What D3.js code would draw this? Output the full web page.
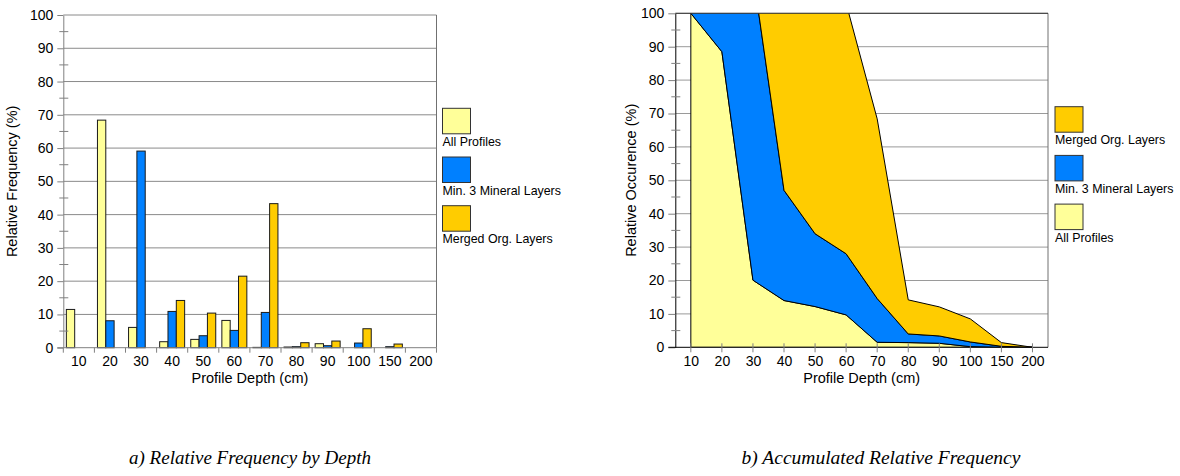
<!DOCTYPE html>
<html><head><meta charset="utf-8">
<script src="https://cdn.jsdelivr.net/npm/d3@7"></script>
<style>
body{margin:0;background:#fff}
svg{display:block}
text{font-family:"Liberation Sans",Arial,sans-serif;fill:#000}
</style>
</head><body><svg id="c" width="1180" height="476"></svg>
<script>
// ---------- data ----------
const categories = ["10","20","30","40","50","60","70","80","90","100","150","200"];
const seriesNames = ["All Profiles","Min. 3 Mineral Layers","Merged Org. Layers"];
const seriesColors = ["#FFFF99","#0080FF","#FFCC00"];
// a) relative frequency by depth (%)
const allProfiles     = [11.5,68.4,6.1,1.8,2.5,8.2,0.1,0.2,1.2,0,0,0];
const mineralLayers   = [0,8.1,59.1,10.9,3.6,5.2,10.6,0.3,0.6,1.4,0.3,0];
const mergedOrgLayers = [0,0,0,14.2,10.4,21.5,43.3,1.5,2.0,5.7,1.1,0];
// b) accumulated relative frequency (%), stacked and clipped at 100
const accAllProfiles = [100,88.5,20.1,14.0,12.2,9.7,1.5,1.4,1.2,0.2,0,0];
const accMineral     = [100,100,92,33,21.8,18.3,13.1,2.6,2.2,1.4,0.3,0];
const accOrg         = [100,100,100,99.7,85.5,75,53.8,10.2,8.7,6.9,1.1,0];
const yTicks = [0,10,20,30,40,50,60,70,80,90,100];
const yMinorTicks = [5,15,25,35,45,55,65,75,85,95];

const svg = d3.select("#c");
svg.append("rect").attr("width",1180).attr("height",476).attr("fill","#fff");

// ---------- chart a ----------
(function(){
  const L=63.3,R=436.5,T=15,B=347.7;
  const g = svg.append("g");
  const x = d3.scaleBand().domain(categories).range([L,R]);
  const x1 = d3.scaleBand().domain(seriesNames).range([0,x.bandwidth()]).paddingOuter(0.367);
  const y = d3.scaleLinear().domain([0,100]).range([B,T]);
  // grid
  g.selectAll("line.grid").data(yTicks.slice(1)).join("line")
    .attr("x1",L).attr("x2",R).attr("y1",d=>y(d)).attr("y2",d=>y(d))
    .attr("stroke","#8a8a8a").attr("stroke-width",1);
  g.append("line").attr("x1",R).attr("x2",R).attr("y1",T).attr("y2",B).attr("stroke","#707070");
  // bars
  const vals=[allProfiles,mineralLayers,mergedOrgLayers];
  const rows=[];
  categories.forEach((c,i)=>seriesNames.forEach((s,j)=>{ if(vals[j][i]>0) rows.push({c,s,j,v:vals[j][i]}); }));
  g.selectAll("rect.bar").data(rows).join("rect")
    .attr("x",d=>x(d.c)+x1(d.s)).attr("width",x1.bandwidth())
    .attr("y",d=>y(d.v)).attr("height",d=>y(0)-y(d.v))
    .attr("fill",d=>seriesColors[d.j]).attr("stroke","#1a1a1a").attr("stroke-width",1);
  // y axis
  const ya = g.append("g").attr("transform",`translate(${L},0)`)
    .call(d3.axisLeft(y).tickValues(yTicks).tickSize(6).tickSizeOuter(0).tickPadding(4));
  ya.select(".domain").attr("stroke","#808080");
  ya.selectAll(".tick line").attr("stroke","#808080");
  ya.selectAll("text").style("font-size","14px");
  g.selectAll("line.minor").data(yMinorTicks).join("line")
    .attr("x1",L-4).attr("x2",L+5).attr("y1",d=>y(d)).attr("y2",d=>y(d)).attr("stroke","#808080");
  // x axis
  const xa = g.append("g").attr("transform",`translate(0,${B})`)
    .call(d3.axisBottom(x).tickSize(0).tickSizeOuter(0).tickPadding(8.4));
  xa.select(".domain").remove();
  xa.selectAll("text").style("font-size","14px");
  g.append("line").attr("x1",L-6).attr("x2",R).attr("y1",B).attr("y2",B).attr("stroke","#808080");
  g.selectAll("line.xt").data(categories.map(c=>x(c)).concat([R])).join("line")
    .attr("x1",d=>d).attr("x2",d=>d).attr("y1",B).attr("y2",B+5).attr("stroke","#808080");
  // titles
  g.append("text").attr("transform",`translate(17,${(T+B)/2}) rotate(-90)`)
    .attr("text-anchor","middle").style("font-size","14.5px").text("Relative Frequency (%)");
  g.append("text").attr("x",(L+R)/2).attr("y",383.3).attr("text-anchor","middle")
    .style("font-size","14.5px").text("Profile Depth (cm)");
  // legend
  const lg = g.selectAll("g.leg").data(seriesNames).join("g")
    .attr("transform",(d,i)=>`translate(442.5,${108.3+i*48.7})`);
  lg.append("rect").attr("width",28).attr("height",25.5)
    .attr("fill",(d,i)=>seriesColors[i]).attr("stroke","#333");
  lg.append("text").attr("x",0).attr("y",37.5).style("font-size","12.4px").text(d=>d);
  // caption
  g.append("text").attr("x",250).attr("y",464).attr("text-anchor","middle")
    .style("font-family","'Liberation Serif','Times New Roman',serif").style("font-style","italic")
    .style("font-size","19px").text("a) Relative Frequency by Depth");
})();

// ---------- chart b ----------
(function(){
  const L=675.3,R=1048,T=13.3,B=347.3;
  const g = svg.append("g");
  const x = d3.scalePoint().domain(categories).range([L,R]).padding(0.5);
  const y = d3.scaleLinear().domain([0,100]).range([B,T]);
  g.selectAll("line.grid").data(yTicks.slice(1)).join("line")
    .attr("x1",L).attr("x2",R).attr("y1",d=>y(d)).attr("y2",d=>y(d))
    .attr("stroke","#9a9a9a").attr("stroke-width",1);
  g.append("line").attr("x1",R).attr("x2",R).attr("y1",T).attr("y2",B).attr("stroke","#707070");
  // stacked areas
  const rows = categories.map((c,i)=>({c,a:accAllProfiles[i],m:accMineral[i],o:accOrg[i]}));
  const stack = d3.stack().keys(["a","m","o"])(rows);
  svg.append("clipPath").attr("id","clipb").append("rect")
    .attr("x",L).attr("y",T).attr("width",R-L).attr("height",B-T);
  const area = d3.area().x(d=>x(d.data.c)).y0(d=>y(d[0])).y1(d=>y(d[1]));
  g.append("g").attr("clip-path","url(#clipb)")
    .selectAll("path").data(stack).join("path")
    .attr("d",area).attr("fill",(d,i)=>seriesColors[i])
    .attr("stroke","#000").attr("stroke-width",1).attr("stroke-linejoin","round");
  g.append("line").attr("x1",L).attr("x2",R).attr("y1",T).attr("y2",T).attr("stroke","#333");
  // y axis
  const ya = g.append("g").attr("transform",`translate(${L},0)`)
    .call(d3.axisLeft(y).tickValues(yTicks).tickSize(7).tickSizeOuter(0).tickPadding(4));
  ya.select(".domain").attr("stroke","#000");
  ya.selectAll(".tick line").attr("stroke","#808080");
  ya.selectAll("text").style("font-size","14px");
  g.selectAll("line.minor").data(yMinorTicks).join("line")
    .attr("x1",L-4).attr("x2",L+5).attr("y1",d=>y(d)).attr("y2",d=>y(d)).attr("stroke","#808080");
  // x axis
  const xa = g.append("g").attr("transform",`translate(0,${B})`)
    .call(d3.axisBottom(x).tickSize(0).tickSizeOuter(0).tickPadding(8.4));
  xa.select(".domain").remove();
  xa.selectAll("text").style("font-size","14px");
  g.append("line").attr("x1",L-7).attr("x2",R).attr("y1",B).attr("y2",B).attr("stroke","#000");
  g.selectAll("line.xt").data(categories).join("line")
    .attr("x1",d=>x(d)).attr("x2",d=>x(d)).attr("y1",B-4).attr("y2",B+5).attr("stroke","#808080");
  // titles
  g.append("text").attr("transform",`translate(636,${(T+B)/2}) rotate(-90)`)
    .attr("text-anchor","middle").style("font-size","14.5px").text("Relative Occurence (%)");
  g.append("text").attr("x",(L+R)/2).attr("y",383.3).attr("text-anchor","middle")
    .style("font-size","14.5px").text("Profile Depth (cm)");
  // legend (reverse order)
  const order=[2,1,0];
  const lg = g.selectAll("g.leg").data(order).join("g")
    .attr("transform",(d,i)=>`translate(1055,${106.7+i*48.7})`);
  lg.append("rect").attr("width",28).attr("height",25.5)
    .attr("fill",d=>seriesColors[d]).attr("stroke","#333");
  lg.append("text").attr("x",0).attr("y",37.5).style("font-size","12.4px").text(d=>seriesNames[d]);
  g.append("text").attr("x",881).attr("y",464).attr("text-anchor","middle")
    .style("font-family","'Liberation Serif','Times New Roman',serif").style("font-style","italic")
    .style("font-size","19.5px").text("b) Accumulated Relative Frequency");
})();
</script>
</body></html>
